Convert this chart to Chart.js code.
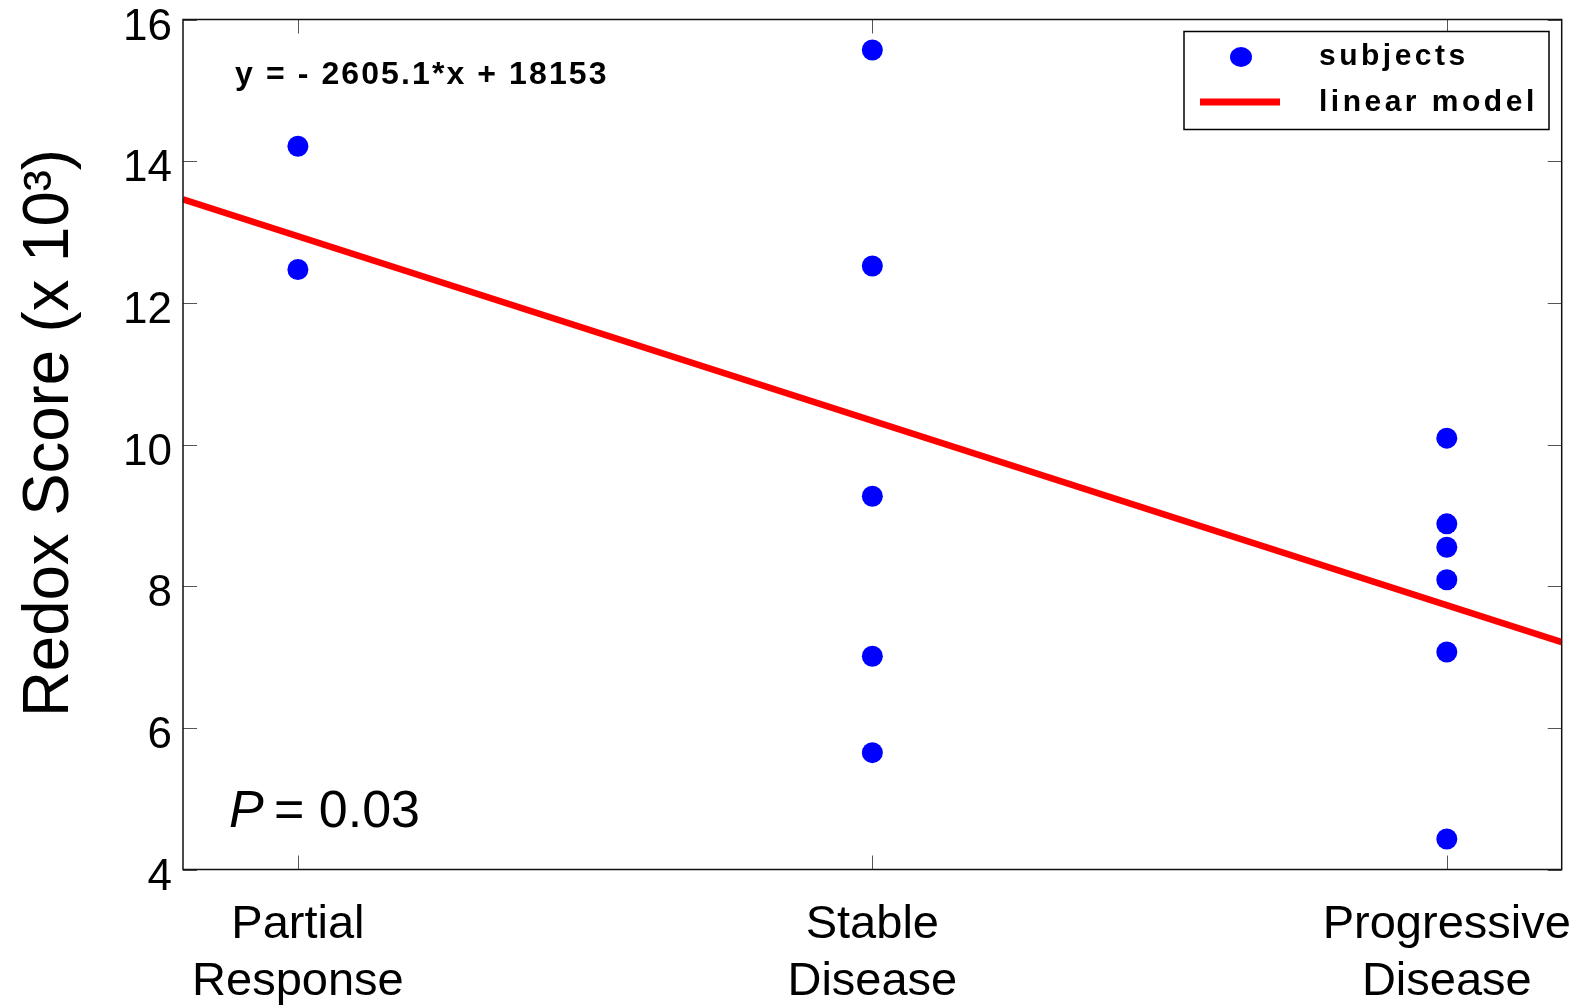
<!DOCTYPE html>
<html><head><meta charset="utf-8">
<script src="https://cdn.jsdelivr.net/npm/chart.js@4.4.1/dist/chart.umd.min.js"></script>
<style>html,body{margin:0;padding:0;background:#fff;overflow:hidden}#wrap{width:1579px;height:1006px;position:relative;background:#fff}</style>
</head><body><div id="wrap"><canvas id="c" width="1579" height="1006"></canvas></div>
<script>
// ---- data ----
const categories = [['Partial','Response'],['Stable','Disease'],['Progressive','Disease']];
const categoryX = [2, 3, 4];
const partialValues = [14.21, 12.47];
const stableValues = [15.57, 12.52, 9.27, 7.01, 5.65];
const progressiveValues = [10.09, 8.88, 8.55, 8.09, 7.07, 4.43];
const modelX = [1.8, 4.2];
const modelY = [13.46, 7.21];
const yTicks = [4, 6, 8, 10, 12, 14, 16];
const xRange = [1.8, 4.2];
const yRange = [4, 16];
const seriesLabels = ['subjects', 'linear model'];
const equationText = 'y = - 2605.1*x + 18153';
const pLabel = 'P';
const pValueText = '= 0.03';
const yTitle = 'Redox Score (x 10\u00B3)';

// ---- build ----
const FAM = '"Liberation Sans", Arial, Helvetica, sans-serif';
const groups = [partialValues, stableValues, progressiveValues];
const subjects = [];
groups.forEach((vals, i) => vals.forEach(v => subjects.push({x: categoryX[i], y: v})));
const model = modelX.map((x, i) => ({x: x, y: modelY[i]}));

const decor = {
  id: 'decor',
  afterDraw(chart) {
    const ctx = chart.ctx;
    const a = chart.chartArea;
    const xs = chart.scales.x, ys = chart.scales.y;
    ctx.save();
    // inward ticks
    ctx.strokeStyle = '#555';
    ctx.lineWidth = 1;
    const TL = 14;
    ys.ticks.forEach(t => {
      const py = Math.round(ys.getPixelForValue(t.value)) + 0.5;
      ctx.beginPath();
      ctx.moveTo(a.left, py); ctx.lineTo(a.left + TL, py);
      ctx.moveTo(a.right - TL, py); ctx.lineTo(a.right, py);
      ctx.stroke();
    });
    xs.ticks.forEach(t => {
      const px = Math.round(xs.getPixelForValue(t.value)) + 0.5;
      ctx.beginPath();
      ctx.moveTo(px, a.bottom); ctx.lineTo(px, a.bottom - TL);
      ctx.moveTo(px, a.top); ctx.lineTo(px, a.top + TL);
      ctx.stroke();
    });
    // box
    ctx.strokeStyle = '#111';
    ctx.lineWidth = 1.5;
    ctx.strokeRect(a.left, a.top, a.right - a.left, a.bottom - a.top);

    // y title
    ctx.save();
    ctx.translate(68, 433);
    ctx.rotate(-Math.PI / 2);
    ctx.font = '65px ' + FAM;
    ctx.fillStyle = '#000';
    ctx.textAlign = 'center';
    ctx.textBaseline = 'alphabetic';
    const w = ctx.measureText(yTitle).width;
    ctx.scale(568 / w, 1);
    ctx.fillText(yTitle, 0, 0);
    ctx.restore();

    // equation
    ctx.fillStyle = '#000';
    ctx.textAlign = 'left';
    ctx.textBaseline = 'alphabetic';
    ctx.font = 'bold 32px ' + FAM;
    try { ctx.letterSpacing = '2.1px'; } catch (e) {}
    ctx.fillText(equationText, 235, 84);

    // P value
    try { ctx.letterSpacing = '0px'; } catch (e) {}
    ctx.font = 'italic 52px ' + FAM;
    ctx.fillText(pLabel, 229, 827);
    ctx.font = '52px ' + FAM;
    ctx.fillText(pValueText, 274, 827);

    // legend
    const ds0 = chart.data.datasets[0], ds1 = chart.data.datasets[1];
    ctx.fillStyle = '#fff';
    ctx.fillRect(1184, 31, 365, 98);
    ctx.strokeStyle = '#000';
    ctx.lineWidth = 1.5;
    ctx.strokeRect(1184, 31.5, 365, 98);
    ctx.fillStyle = ds0.backgroundColor;
    ctx.beginPath();
    ctx.ellipse(1241, 57, 11, 10, 0, 0, Math.PI * 2);
    ctx.fill();
    ctx.strokeStyle = ds1.borderColor;
    ctx.lineWidth = 7;
    ctx.beginPath();
    ctx.moveTo(1200, 102); ctx.lineTo(1280, 102);
    ctx.stroke();
    ctx.fillStyle = '#000';
    ctx.font = 'bold 30px ' + FAM;
    try { ctx.letterSpacing = '3.5px'; } catch (e) {}
    ctx.fillText(ds0.label, 1319, 65);
    ctx.fillText(ds1.label, 1319, 110.5);
    try { ctx.letterSpacing = '0px'; } catch (e) {}
    ctx.restore();
  }
};

new Chart(document.getElementById('c'), {
  type: 'scatter',
  data: {
    datasets: [
      {label: seriesLabels[0], data: subjects, backgroundColor: '#0000ff', borderColor: '#0000ff',
       pointRadius: 10.5, pointHoverRadius: 10.5, borderWidth: 0, order: 1},
      {type: 'line', label: seriesLabels[1], data: model, borderColor: '#ff0000', backgroundColor: '#ff0000',
       borderWidth: 6.5, pointRadius: 0, pointHoverRadius: 0, fill: false, tension: 0, order: 2}
    ]
  },
  options: {
    responsive: false,
    animation: false,
    devicePixelRatio: 1,
    events: [],
    layout: {padding: {top: 19.5, right: 17.3, left: 0, bottom: 0}},
    plugins: {legend: {display: false}, tooltip: {enabled: false}},
    scales: {
      x: {
        type: 'linear', min: xRange[0], max: xRange[1],
        afterBuildTicks: s => { s.ticks = categoryX.map(v => ({value: v})); },
        ticks: {
          callback: v => { const i = categoryX.indexOf(v); return i >= 0 ? categories[i] : ''; },
          font: {family: FAM, size: 47, lineHeight: 1.206}, color: '#000',
          padding: 27.5, maxRotation: 0, minRotation: 0, autoSkip: false
        },
        grid: {display: false, drawTicks: false},
        border: {display: false},
        afterFit: s => { s.height = 136.5; s.paddingLeft = 0; s.paddingRight = 0; }
      },
      y: {
        type: 'linear', min: yRange[0], max: yRange[1],
        afterBuildTicks: s => { s.ticks = yTicks.map(v => ({value: v})); },
        ticks: {font: {family: FAM, size: 44}, color: '#000', padding: 11, labelOffset: 8},
        grid: {display: false, drawTicks: false},
        border: {display: false},
        afterFit: s => { s.width = 183; s.paddingTop = 0; s.paddingBottom = 0; }
      }
    }
  },
  plugins: [decor]
});
</script>
</body></html>
